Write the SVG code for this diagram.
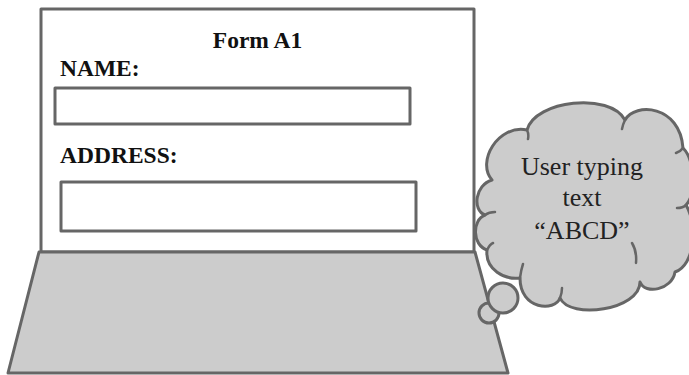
<svg xmlns="http://www.w3.org/2000/svg" width="689" height="375" viewBox="0 0 689 375">
<style>
.ln{stroke:#666;stroke-width:3;stroke-linejoin:round;}
.fr{fill:#fff;}
.gr{fill:#cccccc;}
.hk{fill:none;stroke:#666;stroke-width:2.5;stroke-linecap:round;}
.lb{font-family:"Liberation Serif","Times New Roman",serif;font-weight:bold;font-size:23.5px;fill:#111;}
.ct{font-family:"Liberation Serif","Times New Roman",serif;font-size:26px;fill:#222;text-anchor:middle;}
</style>
<g id="screen">
<rect class="ln fr" x="41" y="9" width="433" height="243"/>
<text class="lb" x="257.5" y="48" text-anchor="middle">Form A1</text>
</g>
<g id="name-field">
<text class="lb" x="60" y="76">NAME:</text>
<rect class="ln fr" x="55" y="88" width="355" height="36"/>
</g>
<g id="address-field">
<text class="lb" x="60" y="163">ADDRESS:</text>
<rect class="ln fr" x="61" y="182" width="355" height="49"/>
</g>
<g id="keyboard">
<polygon class="ln gr" points="39,252 475,252 508,373 8,373"/>
</g>
<g id="thought-bubbles">
<circle class="ln gr" cx="489" cy="313" r="10"/>
<circle class="ln gr" cx="503" cy="298" r="15"/>
</g>
<g id="cloud">
<path class="ln gr" d="M492,180 C476,162 498,124 527,130 C535,100 610,92 625,120 C635,102 680,105 683,148 C695,160 696,195 686,205 C698,225 695,265 675,272 C672,290 645,295 640,282 C640,310 570,320 560,298 C555,312 520,310 520,278 C505,280 485,270 487,250 C472,245 472,220 485,215 C472,210 475,185 492,180 Z"/>
<path class="hk" d="M527,130 q2,4 1,9 M625,120 q-2,4 -3,9 M683,148 q-2,3 -7,5 M686,205 q-3,3 -9,3 M632,243 q5,8 4,20 M560,298 q2,-5 2,-10 M520,278 q1,-8 3,-14 M487,250 q3,-6 6,-7 M485,215 q4,-3 10,-3"/>
<text class="ct" x="582" y="175">User typing</text>
<text class="ct" x="582" y="206">text</text>
<text class="ct" x="582" y="239">“ABCD”</text>
</g>
</svg>
